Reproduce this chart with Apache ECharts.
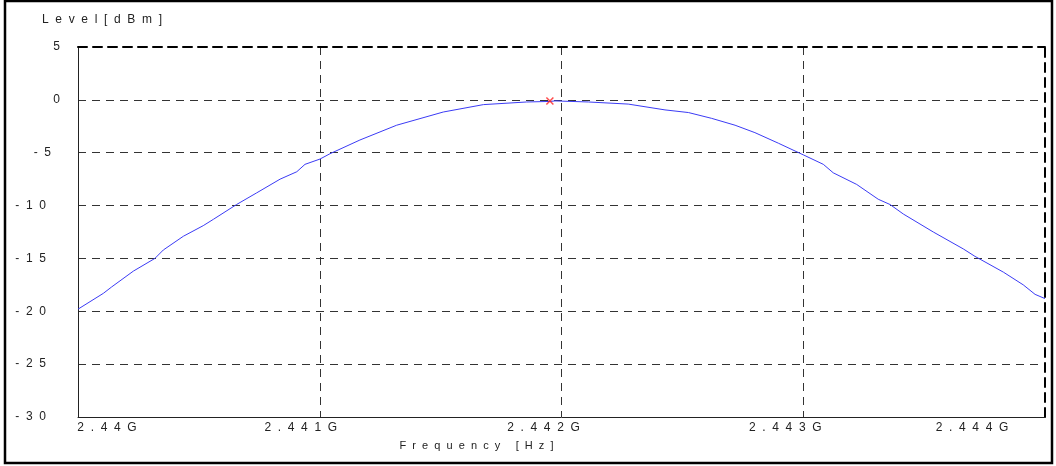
<!DOCTYPE html>
<html>
<head>
<meta charset="utf-8">
<script src="https://cdn.jsdelivr.net/npm/echarts@6/dist/echarts.min.js"></script>
<style>
  html, body { margin: 0; padding: 0; background: #fff; }
  #main { width: 1056px; height: 466px; }
</style>
</head>
<body>
<div id="main"></div>
<script>
// 频率 (MHz) 与电平 (dBm)
const freqMHz = [2440.000, 2440.105, 2440.139, 2440.229, 2440.318, 2440.353, 2440.436, 2440.518, 2440.560, 2440.656,
  2440.739, 2440.836, 2440.905, 2440.939, 2441.001, 2441.042, 2441.166, 2441.318, 2441.511, 2441.677,
  2441.856, 2441.952, 2441.973, 2442.111, 2442.276, 2442.428, 2442.525, 2442.621, 2442.718, 2442.800,
  2442.897, 2443.000, 2443.083, 2443.124, 2443.221, 2443.310, 2443.359, 2443.414, 2443.538, 2443.662,
  2443.710, 2443.828, 2443.910, 2443.959, 2444.000];
const levelDbm = [-19.8, -18.3, -17.7, -16.2, -15.0, -14.2, -12.9, -11.9, -11.3, -9.9,
  -8.8, -7.5, -6.8, -6.1, -5.6, -5.1, -3.8, -2.4, -1.15, -0.45,
  -0.2, -0.15, -0.1, -0.2, -0.4, -0.95, -1.2, -1.75, -2.4, -3.1,
  -4.1, -5.2, -6.1, -6.9, -8.0, -9.4, -9.9, -10.8, -12.5, -14.1,
  -14.8, -16.3, -17.5, -18.4, -18.8];

// 峰值标记
const markerFreq = [2441.952];
const markerLevel = [-0.1];

// 坐标轴刻度
const xTicks = [2440, 2441, 2442, 2443, 2444];
const yTicks = [5, 0, -5, -10, -15, -20, -25, -30];

const font = 'Liberation Sans, Arial, sans-serif';
const txt = '#222';

// 字间距
const spaced = s => String(s).split('').join('  ');

const chart = echarts.init(document.getElementById('main'));

const lineData = freqMHz.map((f, i) => [f, levelDbm[i]]);
const markData = markerFreq.map((f, i) => [f, markerLevel[i]]);

const lbl = { fontFamily: font, fontSize: 12, color: txt };

const option = {
  animation: false,
  backgroundColor: '#fff',
  title: {
    text: spaced('Level[dBm]'),
    left: 42,
    top: 14,
    padding: 0,
    textStyle: { fontFamily: font, fontSize: 12, fontWeight: 'normal', color: txt }
  },
  grid: { left: 78, right: 11, top: 47, bottom: 49, containLabel: false },
  graphic: [{
    type: 'rect',
    shape: { x: 5, y: 1, width: 1047, height: 462 },
    style: { fill: 'none', stroke: '#000', lineWidth: 2.5 },
    silent: true
  }],
  xAxis: [{
    type: 'value',
    position: 'bottom',
    min: xTicks[0],
    max: xTicks[xTicks.length - 1],
    interval: 1,
    axisLine: { onZero: false, lineStyle: { color: '#222', width: 1 } },
    axisTick: { show: false },
    splitLine: { show: true, showMinLine: false, showMaxLine: false, lineStyle: { color: '#333', width: 1, type: [8, 6] } },
    name: spaced('Frequency [Hz]'),
    nameLocation: 'middle',
    nameGap: 23,
    nameTextStyle: { fontFamily: font, fontSize: 11, color: txt, padding: [0, 170, 0, 0] },
    axisLabel: {
      margin: 5,
      formatter: (v, i) => '{x' + i + '|' + spaced((v / 1000) + 'G') + '}',
      rich: {
        x0: Object.assign({ padding: [0, 0, 0, 58] }, lbl),
        x1: Object.assign({ padding: [0, 38, 0, 0] }, lbl),
        x2: Object.assign({ padding: [0, 36, 0, 0] }, lbl),
        x3: Object.assign({ padding: [0, 36, 0, 0] }, lbl),
        x4: Object.assign({ padding: [0, 146, 0, 0] }, lbl)
      }
    }
  }, {
    type: 'value',
    position: 'top',
    min: xTicks[0],
    max: xTicks[xTicks.length - 1],
    interval: 1,
    axisLine: { onZero: false, lineStyle: { color: '#000', width: 2, type: [9, 6] } },
    axisTick: { show: false },
    axisLabel: { show: false },
    splitLine: { show: false }
  }],
  yAxis: [{
    type: 'value',
    position: 'left',
    min: yTicks[yTicks.length - 1],
    max: yTicks[0],
    interval: 5,
    axisLine: { show: true, onZero: false, lineStyle: { color: '#222', width: 1 } },
    axisTick: { show: false },
    splitLine: { show: true, showMinLine: false, showMaxLine: false, lineStyle: { color: '#333', width: 1, type: [8, 6] } },
    axisLabel: {
      margin: 18,
      formatter: v => '{c' + String(v).length + '|' + spaced(v) + '}',
      rich: {
        c1: Object.assign({ padding: [0, 0, 0, 0] }, lbl),
        c2: Object.assign({ padding: [0, 9, 0, 0] }, lbl),
        c3: Object.assign({ padding: [0, 14, 0, 0] }, lbl)
      }
    }
  }, {
    type: 'value',
    position: 'right',
    min: yTicks[yTicks.length - 1],
    max: yTicks[0],
    interval: 5,
    axisLine: { show: true, onZero: false, lineStyle: { color: '#000', width: 2, type: [9, 6] } },
    axisTick: { show: false },
    axisLabel: { show: false },
    splitLine: { show: false }
  }],
  series: [{
    type: 'line',
    data: lineData,
    showSymbol: false,
    symbol: 'none',
    lineStyle: { color: '#3b3bf5', width: 1 },
    z: 3
  }, {
    type: 'scatter',
    data: markData,
    symbol: 'path://M0 0L10 10M10 0L0 10',
    symbolSize: 7,
    itemStyle: { color: 'transparent', borderColor: '#ff2020', borderWidth: 1.5 },
    z: 4
  }]
};

chart.setOption(option);
</script>
</body>
</html>
